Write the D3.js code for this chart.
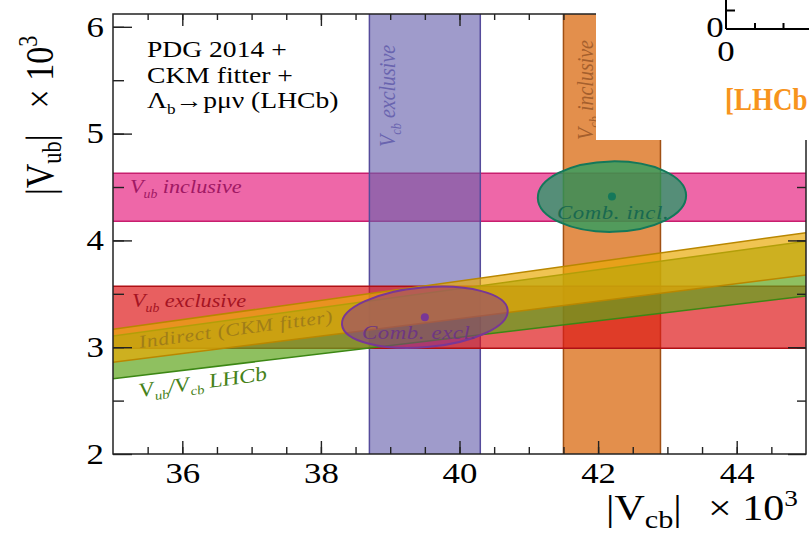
<!DOCTYPE html>
<html>
<head>
<meta charset="utf-8">
<title>Vub vs Vcb</title>
<script src="https://cdn.jsdelivr.net/npm/d3@7"></script>
<style>
body { margin: 0; background: #fff; }
text { font-family: "Liberation Serif", serif; }
</style>
</head>
<body>
<script>
var w = 809, h = 538;

// axis ranges and ticks
var xDomain = [35, 45];
var yDomain = [2, 6.12];
var xMajor = [36, 38, 40, 42, 44];
var xMinor = d3.range(35.5, 45, 0.5);
var yMajor = [2, 3, 4, 5, 6];
var yMinor = d3.range(2.5, 6.1, 0.5);

// constraint bands (x 10^3)
var vcbExclusive = [38.7, 40.3];
var vcbInclusive = [41.5, 42.9];
var vubInclusive = [4.18, 4.63];
var vubExclusive = [2.99, 3.57];
var ratioLHCb = [0.0773, 0.0887];   // |Vub|/|Vcb| from Lb -> p mu nu
var ratioCKM = [0.0817, 0.0905];    // indirect, CKM fitter

// combined fits: centre and half widths
var combExclCentre = [39.5, 3.28];
var combExclHalf = [1.2, 0.28];
var combInclCentre = [42.2, 4.41];
var combInclHalf = [1.07, 0.33];

var pLeft = 113, pRight = 806, pTop = 14, pBottom = 454;
var sx = 1.2;   // the figure is stretched sideways

var x = d3.scaleLinear().domain(xDomain).range([pLeft, pRight]);
var y = d3.scaleLinear().domain(yDomain).range([pBottom, pTop]);

var svg = d3.select("body").append("svg")
	.attr("width", w)
	.attr("height", h);

svg.append("clipPath").attr("id", "clip")
	.append("rect")
	.attr("x", pLeft).attr("y", pTop)
	.attr("width", pRight - pLeft).attr("height", pBottom - pTop);

var plot = svg.append("g").attr("clip-path", "url(#clip)");

function hband(v, fill, op, stroke) {
	plot.append("rect")
		.attr("x", pLeft).attr("width", pRight - pLeft)
		.attr("y", y(v[1])).attr("height", y(v[0]) - y(v[1]))
		.attr("fill", fill).attr("fill-opacity", op);
	plot.selectAll(null).data(v).enter().append("line")
		.attr("x1", pLeft).attr("x2", pRight)
		.attr("y1", function(d) { return y(d); })
		.attr("y2", function(d) { return y(d); })
		.attr("stroke", stroke).attr("stroke-width", 1.5);
}

function vband(v, fill, op, stroke) {
	plot.append("rect")
		.attr("y", pTop).attr("height", pBottom - pTop)
		.attr("x", x(v[0])).attr("width", x(v[1]) - x(v[0]))
		.attr("fill", fill).attr("fill-opacity", op);
	plot.selectAll(null).data(v).enter().append("line")
		.attr("y1", pTop).attr("y2", pBottom)
		.attr("x1", function(d) { return x(d); })
		.attr("x2", function(d) { return x(d); })
		.attr("stroke", stroke).attr("stroke-width", 1.5);
}

// band of constant ratio Vub/Vcb
function wedge(r, fill, op, stroke) {
	var pts = [[xDomain[0], r[0] * xDomain[0]], [xDomain[1], r[0] * xDomain[1]],
		[xDomain[1], r[1] * xDomain[1]], [xDomain[0], r[1] * xDomain[0]]];
	var line = d3.line().x(function(d) { return x(d[0]); }).y(function(d) { return y(d[1]); });
	plot.append("path").attr("d", line(pts) + "Z")
		.attr("fill", fill).attr("fill-opacity", op);
	r.forEach(function(k) {
		plot.append("path")
			.attr("d", line([[xDomain[0], k * xDomain[0]], [xDomain[1], k * xDomain[1]]]))
			.attr("stroke", stroke).attr("stroke-width", 1.5).attr("fill", "none");
	});
}

hband(vubInclusive, "rgb(231,39,131)", 0.7, "rgb(200,30,110)");
vband(vcbExclusive, "rgb(103,97,173)", 0.63, "rgb(85,75,155)");
vband(vcbInclusive, "rgb(215,95,0)", 0.7, "rgb(160,80,20)");
hband(vubExclusive, "rgb(222,23,25)", 0.69, "rgb(175,15,20)");
wedge(ratioLHCb, "rgb(96,165,28)", 0.7, "rgb(60,135,20)");
wedge(ratioCKM, "rgb(233,169,3)", 0.685, "rgb(185,135,0)");

// text helper: stretched sideways like the picture
function label(g, px, py, rot, size, color, italic) {
	var t = "translate(" + px + "," + py + ") scale(" + sx + ",1)";
	if (rot) t += " rotate(" + rot + ")";
	return g.append("text")
		.attr("transform", t)
		.style("font-size", size + "px")
		.style("font-style", italic ? "italic" : "normal")
		.attr("fill", color);
}
function sub(t, s, d, k) {
	t.append("tspan").attr("dy", d).style("font-size", (k || 0.62) + "em").text(s);
	return t;
}

// band labels
var slope = Math.atan(sx * d3.mean(ratioCKM) * (y(0) - y(1)) / (x(1) - x(0))) * 180 / Math.PI;

var t = label(plot, 130, 193, 0, 18.5, "rgb(160,25,100)", true);
t.append("tspan").text("V");
sub(t, "ub", 5);
t.append("tspan").attr("dy", -5).text(" inclusive");

t = label(plot, 132, 307, 0, 18.5, "rgb(165,20,35)", true);
t.append("tspan").text("V");
sub(t, "ub", 5);
t.append("tspan").attr("dy", -5).text(" exclusive");

t = label(plot, 395, 147, -90, 20, "rgb(105,100,175)", true);
t.append("tspan").text("V");
sub(t, "cb", 5);
t.append("tspan").attr("dy", -5).text(" exclusive");

t = label(plot, 593, 140, -90, 20, "rgb(165,95,45)", true);
t.append("tspan").text("V");
sub(t, "cb", 5);
t.append("tspan").attr("dy", -5).text(" inclusive");

label(plot, 140, 348, -slope, 18, "rgb(160,125,25)", true)
	.style("letter-spacing", "0.6px")
	.text("Indirect (CKM fitter)");

t = label(plot, 140, 397, -slope, 20, "rgb(70,130,25)", true);
t.append("tspan").text("V");
sub(t, "ub", 5);
t.append("tspan").attr("dy", -5).text("/V");
sub(t, "cb", 5);
t.append("tspan").attr("dy", -5).text(" LHCb");

// combined ellipses
function ellipse(c, half, tilt, fill, op, stroke) {
	var g = plot.append("g")
		.attr("transform", "translate(" + x(c[0]) + "," + y(c[1]) + ") rotate(" + tilt + ")");
	g.append("ellipse")
		.attr("rx", x(c[0] + half[0]) - x(c[0]))
		.attr("ry", y(c[1]) - y(c[1] + half[1]))
		.attr("fill", fill).attr("fill-opacity", op)
		.attr("stroke", stroke).attr("stroke-width", 2);
	plot.append("circle")
		.attr("cx", x(c[0])).attr("cy", y(c[1])).attr("r", 4)
		.attr("fill", stroke);
}
ellipse(combExclCentre, combExclHalf, -5, "rgb(140,50,140)", 0.5, "rgb(120,55,150)");
ellipse(combInclCentre, combInclHalf, -1, "rgb(20,160,100)", 0.7, "rgb(20,120,90)");

label(plot, 362, 339, 0, 19, "rgb(110,55,130)", true).style("letter-spacing", "0.5px").text("Comb. excl.");
label(plot, 557, 219, 0, 19, "rgb(25,105,80)", true).style("letter-spacing", "0.5px").text("Comb. incl.");

// axes: frame plus ticks on all sides
var axes = svg.append("g");
axes.append("rect")
	.attr("x", pLeft).attr("y", pTop)
	.attr("width", pRight - pLeft).attr("height", pBottom - pTop)
	.attr("fill", "none").attr("stroke", "#222").attr("stroke-width", 1.5);

function tickStyle(g) {
	g.select(".domain").remove();
	g.attr("font-family", null).attr("font-size", null);
	g.selectAll("line").attr("stroke", "#222").attr("stroke-width", 1.4);
	g.selectAll("text").attr("fill", "#000")
		.style("font-family", "Liberation Serif")
		.style("font-size", "29px")
		.attr("transform", "scale(" + sx + ",1)");
}

axes.append("g").attr("transform", "translate(0," + pBottom + ")")
	.call(d3.axisBottom(x).tickValues(xMinor).tickSize(-7).tickFormat(""))
	.call(tickStyle);
axes.append("g").attr("transform", "translate(0," + pBottom + ")")
	.call(d3.axisBottom(x).tickValues(xMajor).tickSize(-13).tickPadding(8).tickFormat(d3.format("d")))
	.call(tickStyle);
axes.append("g").attr("transform", "translate(0," + pTop + ")")
	.call(d3.axisTop(x).tickValues(xMinor).tickSize(-6).tickFormat(""))
	.call(tickStyle);
axes.append("g").attr("transform", "translate(0," + pTop + ")")
	.call(d3.axisTop(x).tickValues(xMajor).tickSize(-12).tickFormat(""))
	.call(tickStyle);
axes.append("g").attr("transform", "translate(" + pLeft + ",0)")
	.call(d3.axisLeft(y).tickValues(yMinor).tickSize(-11).tickFormat(""))
	.call(tickStyle);
axes.append("g").attr("transform", "translate(" + pLeft + ",0)")
	.call(d3.axisLeft(y).tickValues(yMajor).tickSize(-19).tickPadding(7.5).tickFormat(d3.format("d")))
	.call(tickStyle);
axes.append("g").attr("transform", "translate(" + pRight + ",0)")
	.call(d3.axisRight(y).tickValues(yMinor).tickSize(-9).tickFormat(""))
	.call(tickStyle);
axes.append("g").attr("transform", "translate(" + pRight + ",0)")
	.call(d3.axisRight(y).tickValues(yMajor).tickSize(-18).tickFormat(""))
	.call(tickStyle);

// axis titles
t = label(svg, 53, 195, -90, 34, "#000", false);
t.append("tspan").text("|V");
sub(t, "ub", 7, 0.66);
t.append("tspan").attr("dy", -7).text("|");
t.append("tspan").attr("dx", 26).text("× 10");
t.append("tspan").attr("dy", -13).style("font-size", "0.65em").text("3");

t = label(svg, 606, 520, 0, 35, "#000", false);
t.append("tspan").text("|V");
sub(t, "cb", 8, 0.72);
t.append("tspan").attr("dy", -8).text("|");
t.append("tspan").attr("dx", 22).text("× 10");
t.append("tspan").attr("dy", -14).style("font-size", "0.65em").text("3");

// caption in top-left corner
var cap = ["PDG 2014 +", "CKM fitter +"];
cap.forEach(function(s, i) {
	label(svg, 147, 57 + i * 26, 0, 23, "#000", false).text(s);
});
t = label(svg, 147, 108, 0, 23, "#000", false);
t.append("tspan").text("Λ");
sub(t, "b", 6);
t.append("tspan").attr("dy", -6).text("→pμν (LHCb)");

// pasted piece of another figure on the top right
svg.append("rect").attr("x", 596).attr("y", 0).attr("width", w - 596).attr("height", 140).attr("fill", "#fff");

var insetX = d3.scaleLinear().domain([0, 1]).range([726, 754.5]);
var insetY = d3.scaleLinear().domain([0, 1]).range([29, 10]);
var inset = svg.append("g");
inset.append("line").attr("x1", 726).attr("x2", w).attr("y1", insetY(0)).attr("y2", insetY(0))
	.attr("stroke", "#000").attr("stroke-width", 2);
inset.append("line").attr("x1", insetX(0)).attr("x2", insetX(0)).attr("y1", 0).attr("y2", insetY(0))
	.attr("stroke", "#000").attr("stroke-width", 2);
inset.append("g").attr("transform", "translate(0," + insetY(0) + ")")
	.call(d3.axisBottom(insetX).tickValues([1, 2]).tickSize(-6).tickFormat(""))
	.call(tickStyle);
inset.append("g").attr("transform", "translate(" + insetX(0) + ",0)")
	.call(d3.axisLeft(insetY).tickValues([1]).tickSize(-9).tickFormat(""))
	.call(tickStyle);
inset.selectAll("line").attr("stroke", "#000").attr("stroke-width", 2);
label(inset, insetX(0) - 11, insetY(0) + 8, 0, 29, "#000", false).attr("text-anchor", "middle").text("0");
label(inset, insetX(0), insetY(0) + 32, 0, 29, "#000", false).attr("text-anchor", "middle").text("0");

label(svg, 725, 110, 0, 31, "rgb(247,148,29)", false)
	.style("font-weight", "bold")
	.attr("transform", "translate(725,110) scale(0.87,1)")
	.text("[LHCb");
</script>
</body>
</html>
